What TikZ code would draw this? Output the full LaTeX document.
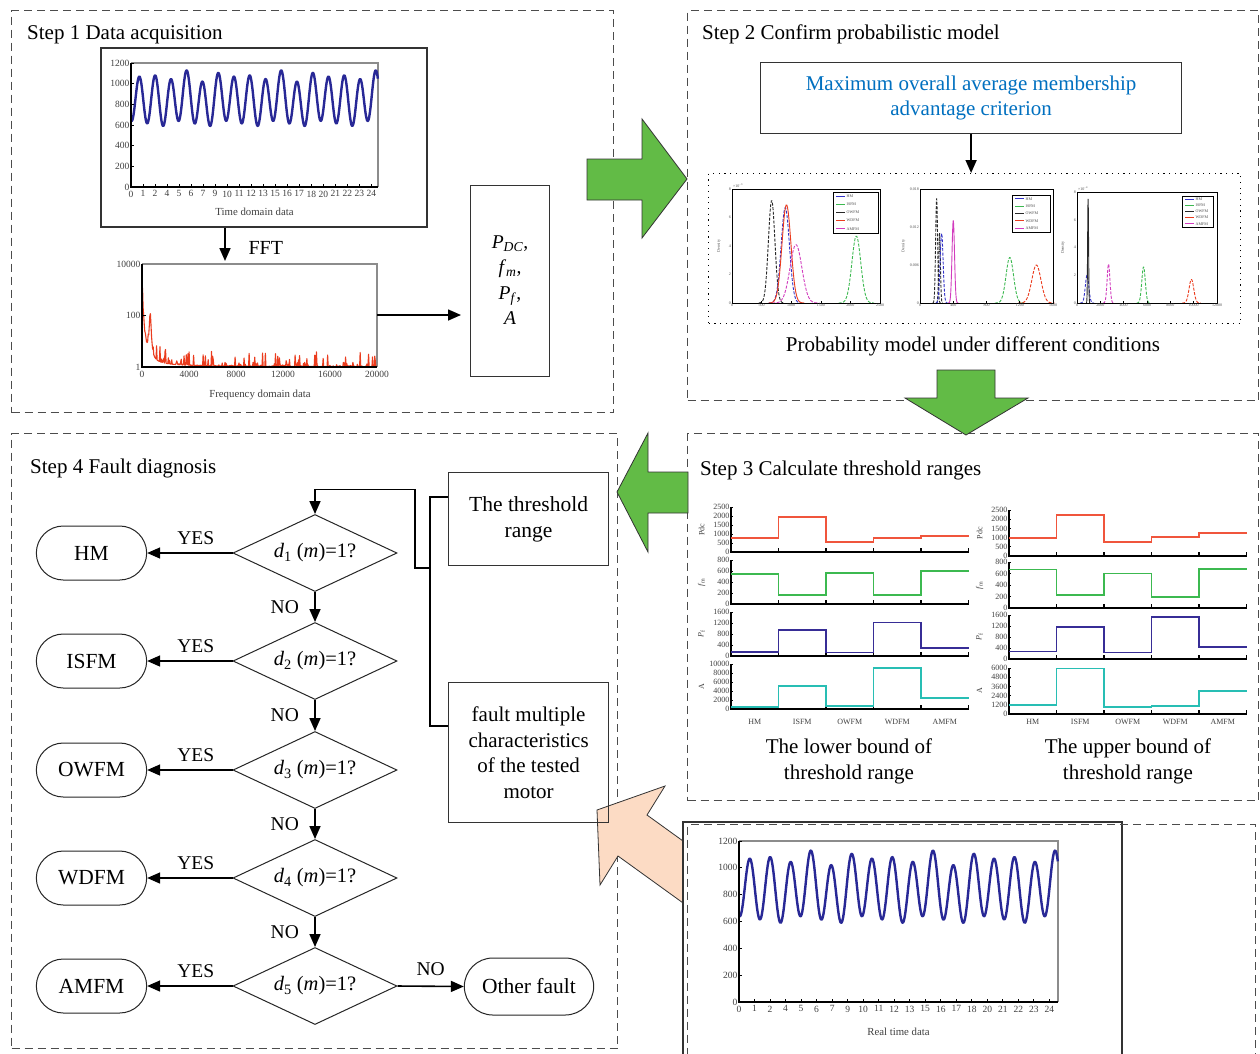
\documentclass[tikz,border=0pt]{standalone}
\usepackage{fontspec}
\setmainfont{Liberation Serif}
\usetikzlibrary{arrows.meta,shapes.geometric,shapes.misc,calc}

\definecolor{stepgreen}{RGB}{98,187,70}
\definecolor{peach}{RGB}{252,219,196}
\definecolor{titleblue}{RGB}{0,112,192}
\definecolor{curveblue}{RGB}{40,40,150}
\definecolor{fftred}{RGB}{235,60,30}
\definecolor{pdcred}{RGB}{240,85,60}
\definecolor{fmgreen}{RGB}{60,185,80}
\definecolor{pfblue}{RGB}{55,45,150}
\definecolor{acyan}{RGB}{40,190,180}
\definecolor{hmblue}{RGB}{50,50,200}
\definecolor{owgray}{RGB}{40,40,40}
\definecolor{amagenta}{RGB}{210,60,190}

\tikzset{
 dashbox/.style={draw=black!70, line width=1pt, dash pattern=on 8pt off 5pt, anchor=north west, inner sep=0pt},
 solidbox/.style={draw=black!80, line width=1.2pt, anchor=north west, inner sep=0pt},
 arr/.style={-{Triangle[length=13pt,width=11pt]}, line width=1.6pt},
 lbl/.style={font=\fontsize{21}{25}\selectfont},
 yn/.style={font=\fontsize{19.5}{23}\selectfont},
 dia/.style={diamond, draw=black!85, line width=1pt, minimum width=164pt, minimum height=77pt, aspect=2.13, inner sep=0pt, font=\fontsize{20.5}{24}\selectfont},
 term/.style={rounded rectangle, draw=black!85, line width=1pt, minimum width=117pt, minimum height=54pt, font=\fontsize{21.5}{25}\selectfont},
 tk/.style={font=\fontsize{9.5}{11}\selectfont, text=black!75, inner sep=1.5pt},
 axt/.style={font=\fontsize{10.8}{12}\selectfont, text=black!75, inner sep=1.5pt},
 stick/.style={font=\fontsize{8}{9.5}\selectfont, text=black!75, inner sep=1.5pt},
 tinyf/.style={font=\fontsize{4}{5}\selectfont, text=black!70, inner sep=1pt},
 greenarrow/.style={draw=black!80, line width=0.8pt, fill=stepgreen, line join=miter},
}

% time series plot: x0, x1, ytop, ybot, label, label y
\newcommand{\tsplot}[6]{%
 \pgfmathsetmacro\tsw{#2-#1}%
 \pgfmathsetmacro\tsh{#4-#3}%
 \draw[black!45, line width=1.2pt] (#1,#3) -- (#2,#3) -- (#2,#4);
 \draw[curveblue, line width=2.4pt, line join=round] plot[domain=0:1, samples=500]
   ({#1+\tsw*\x}, {#4-\tsh*((845+230*cos(5642*(\x-0.034))+30*cos(2821*(\x-0.034)+180)+28*cos(1881*(\x-0.034)+30))/1200)});
 \draw[line width=1.4pt] (#1,#3) -- (#1,#4) -- (#2,#4);
 \foreach \v [count=\i from 0] in {0,200,400,600,800,1000,1200}{
   \draw[line width=0.8pt] (#1,{#4-\tsh*\i/6}) -- ++(3,0);
   \node[tk, anchor=east] at (#1,{#4-\tsh*\i/6}) {\v};}
 \foreach \v [count=\i from 0] in {0,1,2,4,5,6,7,9,10,11,12,13,15,16,17,18,20,21,22,23,24}{
   \draw[line width=1pt] ({#1+\tsw*0.973*\i/20},#4) -- ++(0,-3);
   \node[tk, anchor=north] at ({#1+\tsw*0.973*\i/20},{#4+2}) {\v};}
 \node[axt] at ({#1+\tsw/2},#6) {#5};
}

% gaussian: color, style, mu, sigma, peak
\newcommand{\gau}[5]{%
 \pgfmathsetmacro\ga{#3-4*#4}\pgfmathsetmacro\gb{#3+4*#4}%
 \draw[#1, #2, line width=0.9pt] plot[domain=\ga:\gb, samples=50] (\x,{#5*exp(-0.5*((\x-#3)/#4)^2)});}

% density legend
\newcommand{\dlegend}[4]{%
 \draw[line width=0.6pt, fill=white] (#1,#2) rectangle (#3,#4);
 \foreach \legc/\legn [count=\i] in {hmblue/HM, fmgreen/ISFM, owgray/OWFM, fftred/WDFM, amagenta/AMFM}{
   \pgfmathsetmacro\ly{#2+(#4-#2)*(\i-0.5)/5}
   \draw[\legc, line width=1pt] (#1+3,\ly) -- (#1+12,\ly);
   \node[tinyf, anchor=west, inner sep=0.5pt] at (#1+13,\ly) {\legn};}
}

% step-plot axes (opens scope): x0, ybot, h, max, step, ylabel
\newcommand{\subax}[6]{%
 \pgfmathsetmacro\sya{-#3/#4}%
 \begin{scope}[shift={(#1,#2)}, xscale=47.5, yscale=\sya]
 \draw[line width=1.3pt] (0,#4) -- (0,0) -- (5,0);
 \foreach \k in {1,...,5} \draw[line width=1.3pt] (\k,0) -- ++(0,{#4*0.09});
 \foreach \v in {0,#5,...,#4} {\draw[line width=0.8pt] (0,\v) -- ++(0.05,0); \node[stick, anchor=east] at (0,\v) {\v};}
 \node[stick, rotate=90] at (-0.62,{#4/2}) {#6};
}
% step line (closes scope)
\newcommand{\steps}[6]{%
 \draw[#1, line width=1.8pt, line join=miter] (0,#2) -- (1,#2) -- (1,#3) -- (2,#3) -- (2,#4) -- (3,#4) -- (3,#5) -- (4,#5) -- (4,#6) -- (5,#6);
 \end{scope}}

\begin{document}
\begin{tikzpicture}[x=1pt,y=-1pt]
\fill[white] (0,0) rectangle (1260,1053);
\useasboundingbox (0,0) rectangle (1260,1053);

% ---------- step boxes ----------
\node[dashbox, minimum width=602pt, minimum height=402pt] (s1) at (11,10) {};
\node[dashbox, minimum width=571pt, minimum height=390pt] (s2) at (687,10) {};
\node[dashbox, minimum width=571pt, minimum height=367pt] (s3) at (687,433) {};
\node[dashbox, minimum width=606pt, minimum height=615pt] (s4) at (11,433) {};

\node[lbl, anchor=base west, inner sep=0pt] (t1) at (27,39) {Step 1 Data acquisition};
\node[lbl, anchor=base west, inner sep=0pt] (t2) at (702,39) {Step 2 Confirm probabilistic model};
\node[lbl, anchor=base west, inner sep=0pt] (t3) at (700,475) {Step 3 Calculate threshold ranges};
\node[lbl, anchor=base west, inner sep=0pt] (t4) at (30,473) {Step 4 Fault diagnosis};

% ---------- Step 1 ----------
\node[solidbox, line width=1.8pt, minimum width=326pt, minimum height=179pt] (tbox) at (100,47) {};
\tsplot{131}{378}{63}{187}{Time domain data}{212}

\coordinate (fftin) at (225,261);
\draw[arr] (tbox.south -| fftin) -- (fftin);
\node[font=\fontsize{20}{24}\selectfont, anchor=west] (fftl) at (245,248) {FFT};

% FFT plot
\draw[black!45, line width=1.2pt] (142,264) -- (377,264) -- (377,367);
\pgfmathsetseed{42}
\draw[fftred, line width=1.1pt, line join=round] plot[domain=0:20, samples=420]
  ({142+235*\x/20}, {367-25.7*(2.0/(1+25*\x*\x)+1.7/(1+80*min(100,(\x-0.7)^2))+0.8/(1+3*\x)+0.6*rnd^9)});
\draw[line width=1.6pt] (142,264) -- (142,367) -- (377,367);
\draw[line width=1pt] (142,315.5) -- ++(4,0);
\node[tk, anchor=east] at (142,264) {10000};
\node[tk, anchor=east] at (142,315.5) {100};
\node[tk, anchor=east] at (142,367) {1};
\foreach \v [count=\i from 0] in {0,4000,8000,12000,16000,20000}
  \node[tk, anchor=north] at ({142+47*\i},369) {\v};
\node[axt] at (260,395) {Frequency domain data};

\coordinate (fftout) at (377,315);
\node[solidbox, minimum width=79pt, minimum height=191pt] (pbox) at (470,185) {};
\node[align=center, font=\fontsize{19.5}{25.5}\selectfont] (ptxt) at (510,280)
  {\textit{P}\textsubscript{\textit{DC}},\\ \textit{f}\textsubscript{\textit{m}},\\ \textit{P}\textsubscript{\textit{f}},\\ \textit{A}};
\draw[arr, shorten >=9pt] (fftout) -- (pbox.west |- fftout);

% green arrow 1
\draw[greenarrow] (587,159) -- (642,159) -- (642,119) -- (687,179) -- (642,238) -- (642,200) -- (587,200) -- cycle;

% ---------- Step 2 ----------
\node[solidbox, minimum width=421pt, minimum height=71pt, align=center, text=titleblue,
  font=\fontsize{21}{25}\selectfont] (crit) at (760,62) {Maximum overall average membership\\ advantage criterion};
\node[draw, line width=1.2pt, dash pattern=on 1.2pt off 4.5pt, anchor=north west, inner sep=0pt,
  minimum width=532pt, minimum height=150pt] (dens) at (708,173) {};
\draw[arr] (crit.south) -- (crit.south |- dens.north);
\node[lbl] (pm) at (973,346) {Probability model under different conditions};

% density plot 1
\begin{scope}[shift={(732,303)}, xscale=0.0592, yscale=-14.25]
 \draw[amagenta, line width=0.9pt] (250,0) -- (1900,0);
 \draw[fftred, line width=0.9pt] (950,0) -- (1600,0);
 \gau{owgray}{dash pattern=on 3pt off 1.5pt}{670}{55}{7.2}
 \gau{hmblue}{dash pattern=on 3pt off 1.5pt}{900}{70}{6.7}
 \gau{fftred}{solid}{920}{75}{6.9}
 \gau{amagenta}{dash pattern=on 3pt off 1.5pt}{1080}{100}{4.1}
 \gau{fmgreen}{dash pattern=on 3pt off 1.5pt}{2100}{75}{4.7}
 \draw[line width=0.8pt] (0,0) rectangle (2500,8);
 \foreach \v in {0,500,1000,1500,2000,2500} {\draw[line width=0.6pt] (\v,0) -- ++(0,0.15); \node[tinyf, anchor=north] at (\v,0) {\v};}
 \foreach \v in {0,2,4,6,8} {\node[tinyf, anchor=east] at (0,\v) {\v};}
 \node[tinyf, rotate=90] at (-220,4) {Density};
 \node[tinyf, anchor=south west] at (0,8) {×10\textsuperscript{−3}};
\end{scope}
\dlegend{833}{192}{878}{233}

% density plot 2
\begin{scope}[shift={(920,303)}, xscale=0.083125, yscale=-6.3333]
 \draw[amagenta, line width=0.9pt] (0,0) -- (1600,0);
 \draw[fftred, line width=0.9pt] (300,0) -- (430,0);
 \gau{owgray}{dash pattern=on 3pt off 1.5pt}{200}{12}{16.5}
 \gau{owgray}{dash pattern=on 3pt off 1.5pt}{235}{10}{11}
 \gau{hmblue}{dash pattern=on 3pt off 1.5pt}{260}{18}{11}
 \gau{amagenta}{solid}{400}{15}{13}
 \gau{fmgreen}{dash pattern=on 3pt off 1.5pt}{1080}{45}{7.2}
 \gau{fftred}{dash pattern=on 3pt off 1.5pt}{1400}{55}{6}
 \draw[line width=0.8pt] (0,0) rectangle (1600,18);
 \foreach \v in {0,400,800,1200,1600} {\draw[line width=0.6pt] (\v,0) -- ++(0,0.35); \node[tinyf, anchor=north] at (\v,0) {\v};}
 \foreach \v/\w in {0/0,6/0.006,12/0.012,18/0.018} {\node[tinyf, anchor=east] at (0,\v) {\w};}
 \node[tinyf, rotate=90] at (-200,9) {Density};
\end{scope}
\dlegend{1012}{195}{1050}{232}

% density plot 3
\begin{scope}[shift={(1077,303)}, xscale=0.011667, yscale=-13.875]
 \draw[amagenta, line width=0.9pt] (0,0) -- (12000,0);
 \gau{hmblue}{dash pattern=on 3pt off 1.5pt}{860}{150}{2}
 \gau{owgray}{solid}{950}{40}{7.5}
 \gau{amagenta}{dash pattern=on 3pt off 1.5pt}{2700}{120}{2.8}
 \gau{fmgreen}{dash pattern=on 3pt off 1.5pt}{5700}{150}{2.6}
 \gau{fftred}{dash pattern=on 3pt off 1.5pt}{9800}{200}{1.7}
 \draw[line width=0.8pt] (0,0) rectangle (12000,8);
 \foreach \v in {0,2000,4000,6000,8000,10000,12000} {\draw[line width=0.6pt] (\v,0) -- ++(0,0.15); \node[tinyf, anchor=north] at (\v,0) {\v};}
 \foreach \v in {0,2,4,6,8} {\node[tinyf, anchor=east] at (0,\v) {\v};}
 \node[tinyf, rotate=90] at (-1200,4) {Density};
 \node[tinyf, anchor=south west] at (0,8) {×10\textsuperscript{−4}};
\end{scope}
\dlegend{1182}{196}{1213}{227}

% green arrow 2 (down)
\draw[greenarrow] (937,370) -- (995,370) -- (995,398) -- (1028,398) -- (966,435) -- (905,398) -- (937,398) -- cycle;

% ---------- Step 3 ----------
\subax{731}{552}{45}{2500}{500}{Pdc}\steps{pdcred}{800}{1930}{570}{800}{880}
\subax{731}{604}{44}{800}{200}{\textit{f}\textsubscript{m}}\steps{fmgreen}{540}{170}{560}{170}{600}
\subax{731}{656}{44}{1600}{400}{\textit{P}\textsubscript{f}}\steps{pfblue}{150}{940}{130}{1220}{290}
\subax{731}{709}{45}{10000}{2000}{A}\steps{acyan}{500}{5200}{700}{9200}{2400}

\subax{1009}{556}{46}{2500}{500}{Pdc}\steps{pdcred}{980}{2250}{760}{1020}{1250}
\subax{1009}{608}{46}{800}{200}{\textit{f}\textsubscript{m}}\steps{fmgreen}{670}{230}{600}{190}{680}
\subax{1009}{659}{44}{1600}{400}{\textit{P}\textsubscript{f}}\steps{pfblue}{270}{1160}{240}{1520}{430}
\subax{1009}{714}{46}{6000}{1200}{A}\steps{acyan}{1200}{5950}{950}{1050}{3000}

\foreach \cat [count=\i] in {HM,ISFM,OWFM,WDFM,AMFM}{
  \node[stick] at ({731+47.5*(\i-0.5)},722) {\cat};
  \node[stick] at ({1009+47.5*(\i-0.5)},722) {\cat};}

\node[align=center, font=\fontsize{21}{26}\selectfont] (lb) at (849,761) {The lower bound of\\threshold range};
\node[align=center, font=\fontsize{21}{26}\selectfont] (ub) at (1128,761) {The upper bound of\\threshold range};

% green arrow 3 (left)
\draw[greenarrow] (688,472) -- (648,472) -- (648,433) -- (617,492) -- (648,552) -- (648,513) -- (688,513) -- cycle;

% ---------- real time data ----------
\draw[draw=black!80, line width=0.8pt, fill=peach, line join=miter] (597,810) -- (665,786) -- (647,815) -- (744,885) -- (715,926) -- (618,856) -- (600,885) -- cycle;
\node[solidbox, line width=1.8pt, fill=white, minimum width=439pt, minimum height=245pt] (rtbox) at (682,821) {};
\node[dashbox, minimum width=568pt, minimum height=240pt] (rtdash) at (687,824) {};
\tsplot{739}{1058}{841}{1002}{Real time data}{1032}

% ---------- Step 4 ----------
\node[dia] (d1) at (315,553) {\textit{d}\textsubscript{1} (\textit{m})=1?};
\node[dia] (d2) at (315,661) {\textit{d}\textsubscript{2} (\textit{m})=1?};
\node[dia] (d3) at (315,770) {\textit{d}\textsubscript{3} (\textit{m})=1?};
\node[dia] (d4) at (315,878) {\textit{d}\textsubscript{4} (\textit{m})=1?};
\node[dia] (d5) at (315,986) {\textit{d}\textsubscript{5} (\textit{m})=1?};

\node[term] (hm) at (91.5,553) {HM};
\node[term] (isfm) at (91.5,661) {ISFM};
\node[term] (owfm) at (91.5,770) {OWFM};
\node[term] (wdfm) at (91.5,878) {WDFM};
\node[term] (amfm) at (91.5,986) {AMFM};
\node[term, minimum width=136pt, minimum height=57pt] (other) at (529,986.5) {Other fault};

\draw[arr] (d1.west) -- (hm.east) node[pos=0.43, above=4pt, yn] {YES};
\draw[arr] (d2.west) -- (isfm.east) node[pos=0.43, above=4pt, yn] {YES};
\draw[arr] (d3.west) -- (owfm.east) node[pos=0.43, above=4pt, yn] {YES};
\draw[arr] (d4.west) -- (wdfm.east) node[pos=0.43, above=4pt, yn] {YES};
\draw[arr] (d5.west) -- (amfm.east) node[pos=0.43, above=4pt, yn] {YES};

\draw[arr] (d1.south) -- (d2.north) node[midway, left=12pt, yn] {NO};
\draw[arr] (d2.south) -- (d3.north) node[midway, left=12pt, yn] {NO};
\draw[arr] (d3.south) -- (d4.north) node[midway, left=12pt, yn] {NO};
\draw[arr] (d4.south) -- (d5.north) node[midway, left=12pt, yn] {NO};
\draw[arr] (d5.east) -- (other.west) node[midway, above=6pt, yn] {NO};

\node[solidbox, minimum width=160pt, minimum height=93pt, align=center, font=\fontsize{21.5}{25.7}\selectfont] (thr) at (448,472) {The threshold\\range};
\node[solidbox, minimum width=160pt, minimum height=140pt, align=center, font=\fontsize{21}{25.7}\selectfont] (flt) at (448,682) {fault multiple\\characteristics\\of the tested\\motor};

\coordinate (j1) at ($(thr.north west)+(0,25)$);
\coordinate (j2) at ($(flt.north west)+(0,44)$);
\draw[line width=1.6pt] (j1) -- ++(-18,0) coordinate (b1) -- ($(j2)+(-18,0)$) -- (j2);
\draw[arr] ($(b1)+(0,71)$) -- ++(-15,0) |- ($(d1.north)+(0,-24.5)$) -- (d1.north);

\end{tikzpicture}
\end{document}
